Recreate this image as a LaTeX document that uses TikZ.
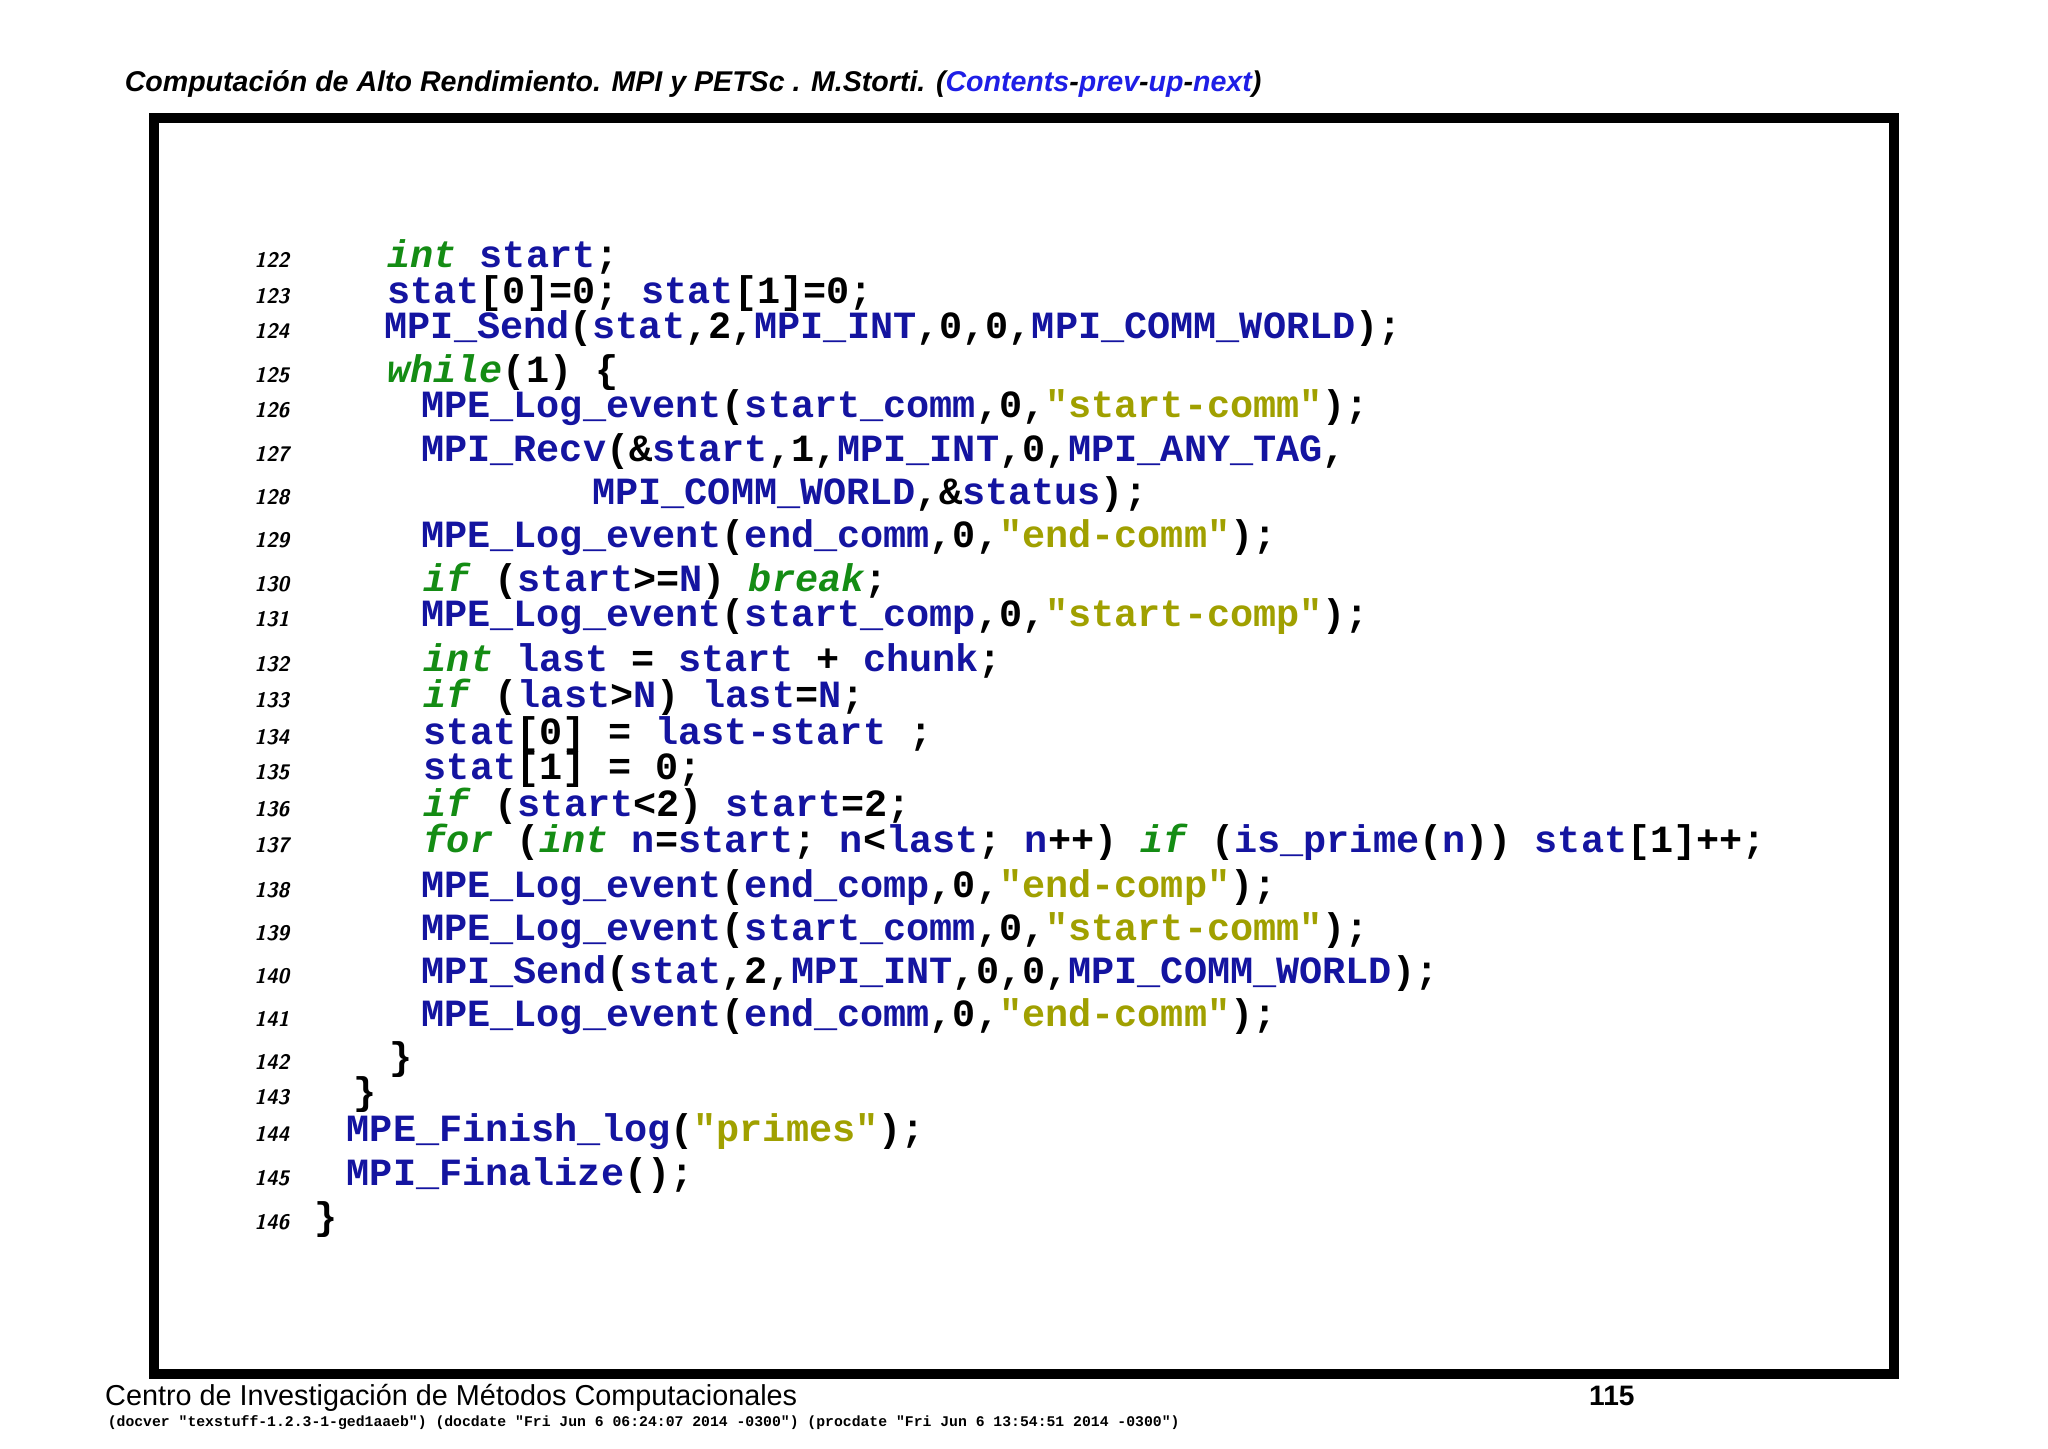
\documentclass[tikz,border=0pt]{standalone}
\usepackage{fontspec}
\setmainfont{Liberation Sans}
\newfontfamily\codefont{Liberation Mono}
\usepackage{tikz}
\usetikzlibrary{positioning}
\definecolor{idblue}{RGB}{20,20,160}
\definecolor{kwgreen}{RGB}{20,140,20}
\definecolor{strolive}{RGB}{160,160,0}
\definecolor{linkblue}{RGB}{30,30,230}
\newcommand{\cid}[1]{\textcolor{idblue}{#1}}
\newcommand{\ckw}[1]{\textcolor{kwgreen}{\textit{#1}}}
\newcommand{\cstr}[1]{\textcolor{strolive}{#1}}
\begin{document}
\begin{tikzpicture}[x={(0.01306cm,0)},y={(0,-0.01306cm)},
  codeline/.style={anchor=base west,inner sep=0pt,font=\codefont\bfseries\fontsize{10.96}{13}\selectfont},
  lnum/.style={anchor=base east,inner sep=0pt,font=\sffamily\bfseries\itshape\fontsize{6}{7}\selectfont}]
  \useasboundingbox (0,0) rectangle (1568,1108.7);
  \node[anchor=base west,inner sep=0pt,font=\bfseries\itshape\fontsize{8.13}{9}\selectfont] (head) at (95,70)
    {Computación de Alto Rendimiento. MPI y PETSc . M.Storti. (\textcolor{linkblue}{Contents}-\textcolor{linkblue}{prev}-\textcolor{linkblue}{up}-\textcolor{linkblue}{next})};
  \draw[line width=0.1cm] (118,90) rectangle (1450,1052);
  % line numbers
  \foreach \n/\y in {122/205,123/232,124/259,125/293,126/320,127/353,128/386,129/419,130/453,131/480,132/514,133/542,134/570,135/597,136/625,137/653,138/687,139/720,140/753,141/786,142/819,143/846,144/874,145/908,146/941}
    \node[lnum] (n\n) at (222,\y) {\n};
  % code
  \node[codeline] (l122) at (296,205) {\ckw{int} \cid{start};};
  \node[codeline] (l123) at (296,232) {\cid{stat}[0]=0; \cid{stat}[1]=0;};
  \node[codeline] (l124) at (294,259) {\cid{MPI\_Send}(\cid{stat},2,\cid{MPI\_INT},0,0,\cid{MPI\_COMM\_WORLD});};
  \node[codeline] (l125) at (296,293) {\ckw{while}(1) \{};
  \node[codeline] (l126) at (322,320) {\cid{MPE\_Log\_event}(\cid{start\_comm},0,\cstr{"start-comm"});};
  \node[codeline] (l127) at (322,353) {\cid{MPI\_Recv}(\&\cid{start},1,\cid{MPI\_INT},0,\cid{MPI\_ANY\_TAG},};
  \node[codeline] (l128) at (453,386) {\cid{MPI\_COMM\_WORLD},\&\cid{status});};
  \node[codeline] (l129) at (322,419) {\cid{MPE\_Log\_event}(\cid{end\_comm},0,\cstr{"end-comm"});};
  \node[codeline] (l130) at (324,453) {\ckw{if} (\cid{start}>=\cid{N}) \ckw{break};};
  \node[codeline] (l131) at (322,480) {\cid{MPE\_Log\_event}(\cid{start\_comp},0,\cstr{"start-comp"});};
  \node[codeline] (l132) at (324,514) {\ckw{int} \cid{last} = \cid{start} + \cid{chunk};};
  \node[codeline] (l133) at (324,542) {\ckw{if} (\cid{last}>\cid{N}) \cid{last}=\cid{N};};
  \node[codeline] (l134) at (324,570) {\cid{stat}[0] = \cid{last-start} ;};
  \node[codeline] (l135) at (324,597) {\cid{stat}[1] = 0;};
  \node[codeline] (l136) at (324,625) {\ckw{if} (\cid{start}<2) \cid{start}=2;};
  \node[codeline] (l137) at (324,653) {\ckw{for} (\ckw{int} \cid{n}=\cid{start}; \cid{n}<\cid{last}; \cid{n}++) \ckw{if} (\cid{is\_prime}(\cid{n})) \cid{stat}[1]++;};
  \node[codeline] (l138) at (322,687) {\cid{MPE\_Log\_event}(\cid{end\_comp},0,\cstr{"end-comp"});};
  \node[codeline] (l139) at (322,720) {\cid{MPE\_Log\_event}(\cid{start\_comm},0,\cstr{"start-comm"});};
  \node[codeline] (l140) at (322,753) {\cid{MPI\_Send}(\cid{stat},2,\cid{MPI\_INT},0,0,\cid{MPI\_COMM\_WORLD});};
  \node[codeline] (l141) at (322,786) {\cid{MPE\_Log\_event}(\cid{end\_comm},0,\cstr{"end-comm"});};
  \node[codeline] (l142) at (298,819) {\}};
  \node[codeline] (l143) at (270,846) {\}};
  \node[codeline] (l144) at (265,874) {\cid{MPE\_Finish\_log}(\cstr{"primes"});};
  \node[codeline] (l145) at (265,908) {\cid{MPI\_Finalize}();};
  \node[codeline] (l146) at (240,941) {\}};
  % footer
  \node[anchor=base west,inner sep=0pt,font=\fontsize{8.2}{9}\selectfont] (foot) at (80,1076)
    {Centro de Investigación de Métodos Computacionales};
  \node[anchor=base east,inner sep=0pt,font=\bfseries\fontsize{8}{9}\selectfont] (page) at (1252,1076) {115};
  \node[anchor=base west,inner sep=0pt,font=\codefont\bfseries\fontsize{4.2}{5}\selectfont] (ver) at (82,1092)
    {(docver "texstuff-1.2.3-1-ged1aaeb") (docdate "Fri Jun 6 06:24:07 2014 -0300") (procdate "Fri Jun 6 13:54:51 2014 -0300")};
\end{tikzpicture}
\end{document}
